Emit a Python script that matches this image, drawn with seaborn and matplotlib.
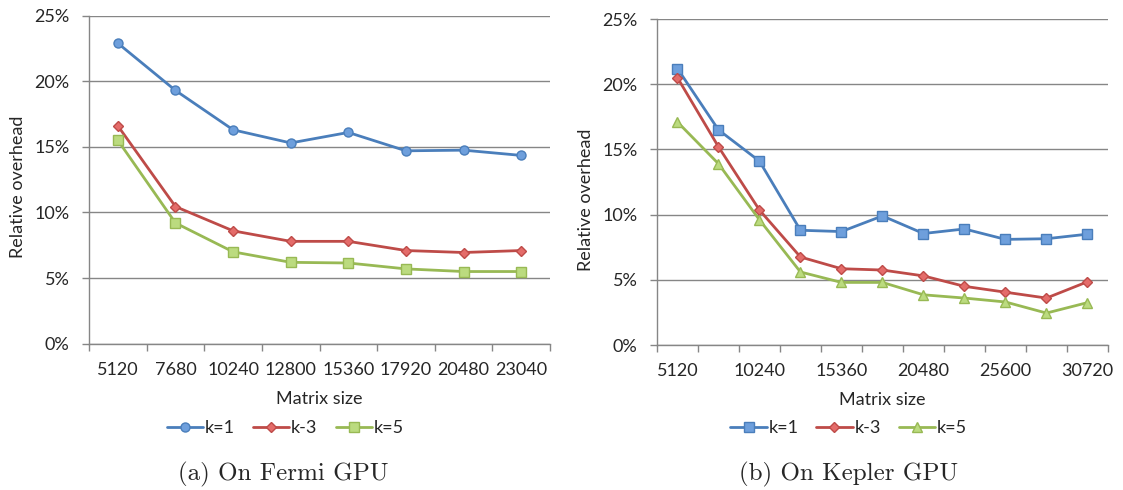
import numpy as np
import pandas as pd
import matplotlib
matplotlib.use("Agg")
import matplotlib.pyplot as plt
from matplotlib.ticker import FuncFormatter, FixedLocator
import seaborn as sns

# data (relative overhead in %)
series = ["k=1", "k-3", "k=5"]

fermi_sizes = ["5120", "7680", "10240", "12800", "15360", "17920", "20480", "23040"]
fermi_k1 = [22.9, 19.3, 16.3, 15.3, 16.1, 14.7, 14.75, 14.35]
fermi_k3 = [16.6, 10.45, 8.6, 7.8, 7.8, 7.1, 6.95, 7.1]
fermi_k5 = [15.5, 9.2, 7.0, 6.2, 6.15, 5.7, 5.5, 5.5]

kepler_sizes = ["5120", "7680", "10240", "12800", "15360", "17920", "20480",
                "23040", "25600", "28160", "30720"]
kepler_k1 = [21.2, 16.5, 14.1, 8.8, 8.7, 9.9, 8.55, 8.9, 8.1, 8.15, 8.5]
kepler_k3 = [20.5, 15.2, 10.35, 6.75, 5.85, 5.75, 5.3, 4.5, 4.05, 3.6, 4.85]
kepler_k5 = [17.1, 13.9, 9.6, 5.6, 4.8, 4.8, 3.85, 3.6, 3.3, 2.45, 3.25]

line_colors = ["#4A7EBB", "#BE4B48", "#98B954"]
face_colors = ["#6E9FDC", "#E46C6A", "#BBDB7F"]
grid_col = "#868686"


def long_df(sizes, vals):
    rows = []
    for name, v in zip(series, vals):
        for s, y in zip(sizes, v):
            rows.append({"size": s, "k": name, "overhead": y})
    return pd.DataFrame(rows)


sns.set_style("white")
plt.rcParams["font.family"] = ["Lato", "DejaVu Sans"]
plt.rcParams["font.size"] = 13

fig = plt.figure(figsize=(11.23, 4.9), dpi=100)
ax1 = fig.add_axes([0.0793, 0.2986, 0.4105, 0.6694])
ax2 = fig.add_axes([0.585, 0.2959, 0.4016, 0.6653])

panels = [
    (ax1, fermi_sizes, [fermi_k1, fermi_k3, fermi_k5], ["o", "D", "s"], [6.5, 5.5, 6.5],
     list(range(len(fermi_sizes))), (-0.171, 0.478), (0.426, -0.257)),
    (ax2, kepler_sizes, [kepler_k1, kepler_k3, kepler_k5], ["s", "D", "^"], [6.5, 5.5, 7.5],
     list(range(0, len(kepler_sizes), 2)), (-0.175, 0.445), (0.425, -0.255)),
]

for ax, sizes, vals, markers, msizes, labelled, ylab_pos, leg_pos in panels:
    df = long_df(sizes, vals)
    sns.pointplot(data=df, x="size", y="overhead", hue="k", order=sizes,
                  hue_order=series, palette=line_colors, markers=markers,
                  linestyles="-", errorbar=None, legend=False, ax=ax)
    lines = [l for l in ax.lines if len(l.get_xdata()) > 1]
    for l, fc, lc, ms in zip(lines, face_colors, line_colors, msizes):
        l.set_linewidth(2.0)
        l.set_markersize(ms)
        l.set_markerfacecolor(fc)
        l.set_markeredgecolor(lc)
        l.set_markeredgewidth(1.0)

    n = len(sizes)
    ax.set_xlim(-0.5, n - 0.5)
    ax.set_ylim(0, 25)
    ax.set_yticks([0, 5, 10, 15, 20, 25])
    ax.yaxis.set_major_formatter(FuncFormatter(lambda v, p: f"{int(v)}%"))
    ax.yaxis.grid(True, color=grid_col, lw=1.0)
    ax.set_axisbelow(True)

    ax.set_xticks(labelled)
    ax.set_xticklabels([sizes[i] for i in labelled])
    ax.xaxis.set_minor_locator(FixedLocator(np.arange(-0.5, n, 1.0)))
    ax.tick_params(axis="x", which="major", length=0, pad=13, labelsize=13)
    ax.tick_params(axis="x", which="minor", length=5, width=1.0, color=grid_col,
                   direction="out", bottom=True)
    ax.tick_params(axis="y", which="major", length=5, width=1.0, color=grid_col,
                   direction="out", left=True, pad=9, labelsize=13)

    for side in ["top", "right"]:
        ax.spines[side].set_visible(False)
    for side in ["left", "bottom"]:
        ax.spines[side].set_color(grid_col)
        ax.spines[side].set_linewidth(1.0)

    ax.set_xlabel("Matrix size", fontsize=13)
    ax.xaxis.set_label_coords(0.5, -0.145)
    ax.set_ylabel("Relative overhead", fontsize=13)
    ax.yaxis.set_label_coords(ylab_pos[0] + 0.035, ylab_pos[1])

    ax.legend(handles=lines, labels=series, loc="center", bbox_to_anchor=leg_pos,
              ncol=3, frameon=False, fontsize=13, handlelength=2.0,
              handletextpad=0.1, columnspacing=1.0, borderaxespad=0)

fig.text(178 / 1123, 1 - 474 / 490, "(a) On Fermi GPU", family="cmr10",
         fontsize=18, ha="left", va="center")
fig.text(739 / 1123, 1 - 474 / 490, "(b) On Kepler GPU", family="cmr10",
         fontsize=18, ha="left", va="center")

fig.savefig("out.png", dpi=100)
